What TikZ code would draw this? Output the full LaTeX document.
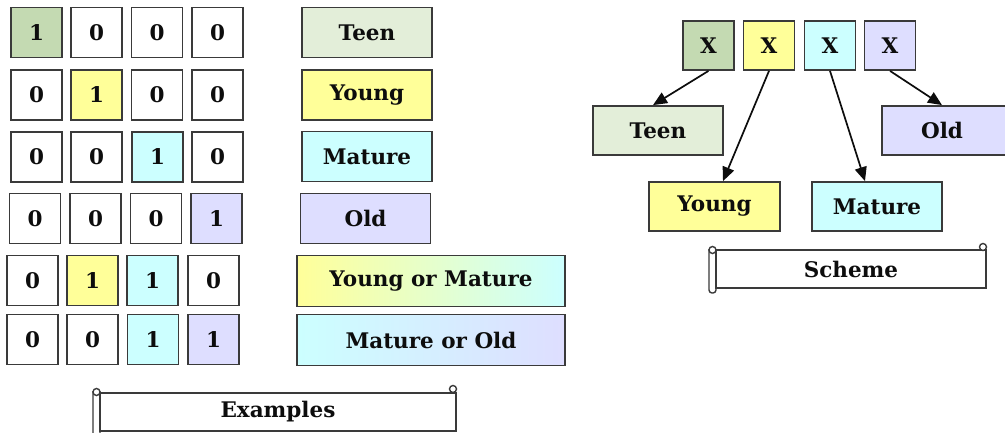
\documentclass[tikz,border=0pt]{standalone}
\usepackage{fontspec}
\setmainfont{DejaVu Serif}
\usetikzlibrary{arrows.meta,calc}
\definecolor{bordergray}{HTML}{3A3A3A}
\definecolor{tgreen}{HTML}{C4DAB2}
\definecolor{tgreenl}{HTML}{E3EED9}
\definecolor{tyellow}{HTML}{FFFF99}
\definecolor{tcyan}{HTML}{CCFFFF}
\definecolor{tlav}{HTML}{DEDEFF}
\definecolor{txt}{HTML}{0D0D0D}
\begin{document}
\begin{tikzpicture}[x=1pt,y=-1pt,
  box/.style={draw=bordergray, line width=1.8pt, inner sep=0pt, text=txt,
    font=\fontsize{21.5}{24}\selectfont\bfseries},
  cell/.style={box, minimum width=51pt, minimum height=50pt},
  lab/.style={box, minimum width=130pt, minimum height=50pt},
  widelab/.style={box, minimum width=268pt, minimum height=51pt},
  xbox/.style={box, minimum width=51pt, minimum height=49pt},
  scrollbody/.style={box, fill=white, minimum height=38pt},
  arr/.style={draw=txt, line width=1.7pt, -{Triangle[length=14pt,width=12pt]}}
]
\useasboundingbox (0,0) rectangle (1005,433);
\clip (0,0) rectangle (1005,433);
\fill[white] (0,0) rectangle (1005,433);

% ---------- Examples ----------
% row 1
\node[cell, fill=tgreen] (a11) at (36.5,32.5) {1};
\node[cell] (a12) at (96.5,32.5) {0};
\node[cell] (a13) at (157,32.5) {0};
\node[cell] (a14) at (217.5,32.5) {0};
\node[lab, fill=tgreenl] (l1) at (367,32.5) {Teen};
% row 2
\node[cell] (a21) at (36.5,95) {0};
\node[cell, fill=tyellow] (a22) at (96.5,95) {1};
\node[cell] (a23) at (157,95) {0};
\node[cell] (a24) at (217.5,95) {0};
\node[lab, fill=tyellow] (l2) at (367,95) {Young};
% row 3
\node[cell] (a31) at (36.5,157) {0};
\node[cell] (a32) at (96.5,157) {0};
\node[cell, fill=tcyan] (a33) at (157.5,157) {1};
\node[cell] (a34) at (217.5,157) {0};
\node[lab, fill=tcyan] (l3) at (367,156.5) {Mature};
% row 4
\node[cell] (a41) at (35,218.5) {0};
\node[cell] (a42) at (95.5,218.5) {0};
\node[cell] (a43) at (156,218.5) {0};
\node[cell, fill=tlav] (a44) at (216.5,218.5) {1};
\node[lab, fill=tlav] (l4) at (365.5,218.5) {Old};
% row 5
\node[cell] (a51) at (32.5,280.5) {0};
\node[cell, fill=tyellow] (a52) at (92.5,280.5) {1};
\node[cell, fill=tcyan] (a53) at (152.5,280.5) {1};
\node[cell] (a54) at (213.5,280.5) {0};
\node[widelab, left color=tyellow, right color=tcyan] (l5) at (431,281) {Young or Mature};
% row 6
\node[cell] (a61) at (32.5,339.5) {0};
\node[cell] (a62) at (92.5,339.5) {0};
\node[cell, fill=tcyan] (a63) at (153,339.5) {1};
\node[cell, fill=tlav] (a64) at (213.5,339.5) {1};
\node[widelab, left color=tcyan, right color=tlav] (l6) at (431,340) {Mature or Old};

% Examples scroll
\draw[draw=bordergray, line width=1.4pt, fill=white, rounded corners=3pt]
  (93,391) -- (93,440) -- (100,440) -- (100,391);
\node[scrollbody, minimum width=356pt] (ex) at (278,412) {Examples};
\draw[draw=bordergray, line width=1.4pt, fill=white] (96.5,392) circle (3.5);
\draw[draw=bordergray, line width=1.4pt, fill=white] (453,389) circle (3.5);

% ---------- Scheme ----------
\node[xbox, fill=tgreen] (x1) at (708.5,45.5) {X};
\node[xbox, fill=tyellow] (x2) at (769,45.5) {X};
\node[xbox, fill=tcyan] (x3) at (830,45.5) {X};
\node[xbox, fill=tlav] (x4) at (890,45.5) {X};

\node[lab, fill=tgreenl, minimum height=49pt] (teen) at (658,130.5) {Teen};
\node[lab, fill=tlav, minimum height=49pt] (old) at (947,130.5) {\hspace*{-10pt}Old};
\node[lab, fill=tyellow, minimum height=49pt, minimum width=131pt] (young) at (714.5,206.5) {Young};
\node[lab, fill=tcyan, minimum height=49pt] (mature) at (877,206.5) {Mature};

\draw[arr] (x1.south) -- ($(teen.north)+(-5,0)$);
\draw[arr] (x2.south) -- ($(young.north)+(8.5,0)$);
\draw[arr] (x3.south) -- ($(mature.north)+(-12,0)$);
\draw[arr] (x4.south) -- ($(old.north)+(-5,0)$);

% Scheme scroll
\draw[draw=bordergray, line width=1.4pt, fill=white, rounded corners=3pt]
  (709,249) -- (709,293) -- (716,293) -- (716,249);
\node[scrollbody, minimum width=270pt] (sc) at (851,269) {Scheme};
\draw[draw=bordergray, line width=1.4pt, fill=white] (712.5,250) circle (3.5);
\draw[draw=bordergray, line width=1.4pt, fill=white] (983,247) circle (3.5);
\end{tikzpicture}
\end{document}
